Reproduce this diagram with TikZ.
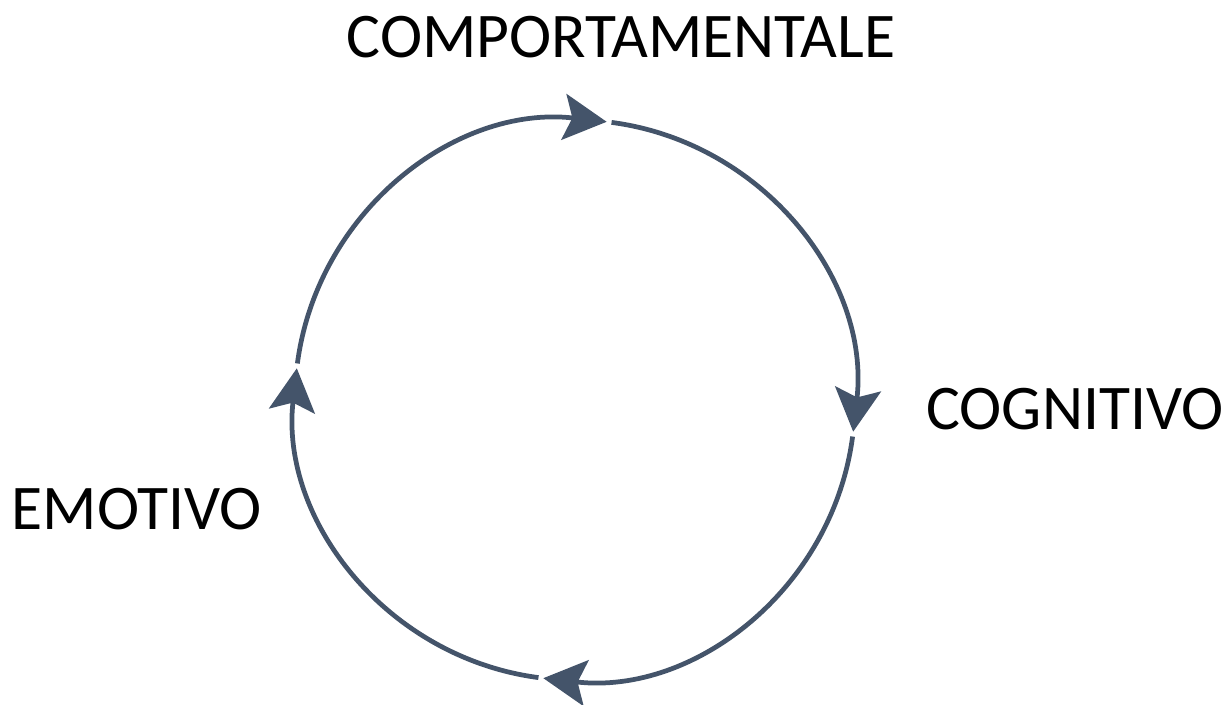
\documentclass[tikz,border=0pt]{standalone}
\usepackage{fontspec}
\setmainfont{Carlito}
\usetikzlibrary{arrows.meta,calc}
\definecolor{cycleblue}{HTML}{44546A}

\begin{document}
\begin{tikzpicture}[
  x=0.02cm, y=0.02cm,
  lbl/.style={font=\fontsize{36.2}{42}\selectfont,text=black,inner sep=0pt},
  arr/.style={line width=0.095cm,cycleblue,
              -{Stealth[length=0.86cm,width=0.92cm,inset=0.17cm]}},
]
\useasboundingbox (0,0) rectangle (1230,704);
\coordinate (c) at (575,304);

\node[lbl] (comp) at (621,667) {COMPORTAMENTALE};
\node[lbl] (cogn) at (1075,295) {COGNITIVO};
\node[lbl] (emot) at (137,195) {EMOTIVO};

\foreach \a in {83.5,-6.5,-96.5,-186.5}
  \draw[arr] ($(c)+(\a+89:280)$) arc[start angle=\a+89,end angle=\a,radius=280];
\end{tikzpicture}
\end{document}
